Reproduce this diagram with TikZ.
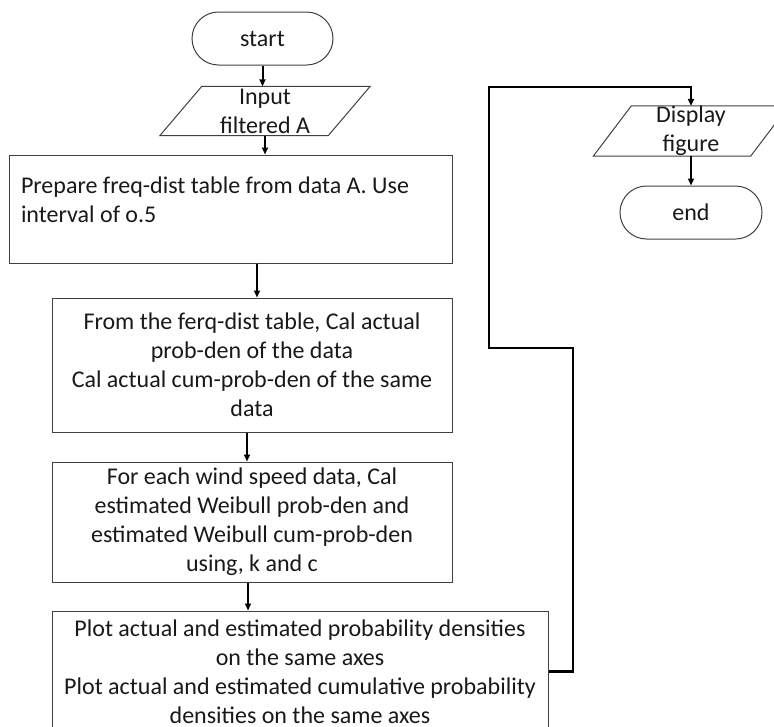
\documentclass[tikz,border=0pt]{standalone}
\usepackage{fontspec}
\setmainfont{Carlito}
\usetikzlibrary{arrows.meta}

\tikzset{
  base/.style={font=\fontsize{24}{29}\selectfont, text=black!90, inner sep=0pt},
  procbox/.style={base, draw=black!75, line width=1pt, align=center},
  term/.style={base, draw=black!75, line width=1pt, rounded corners=26.5pt,
    minimum width=141pt, minimum height=53pt},
  iotext/.style={base, align=center},
  iobox/.style={draw=black!75, line width=1pt},
  flow/.style={line width=2pt, -{Triangle[length=7pt,width=6pt]}},
  loopline/.style={line width=2.6pt, -{Triangle[length=7pt,width=6pt]}}
}

\begin{document}
\begin{tikzpicture}[x=1pt, y=-1pt]
  \useasboundingbox (0,0) rectangle (774,726);
  \clip (0,0) rectangle (774,726);

  % terminals
  \node[term] (start) at (262.5,38.5) {start};
  \node[term, minimum width=142pt] (end) at (691,212.5) {end};

  % input / output parallelograms (text node plus slanted outline)
  \node[iotext, minimum width=168pt, minimum height=49pt] (input) at (265,111) {Input\\filtered A};
  \draw[iobox] ([xshift=-21pt]input.south west) -- ([xshift=-21pt]input.south east)
    -- ([xshift=21pt]input.north east) -- ([xshift=21pt]input.north west) -- cycle;

  \node[iotext, minimum width=157pt, minimum height=47pt] (disp) at (691,131) {Display\\figure};
  \draw[iobox] ([xshift=-19pt]disp.south west) -- ([xshift=-19pt]disp.south east)
    -- ([xshift=19pt]disp.north east) -- ([xshift=19pt]disp.north west) -- cycle;

  % process boxes
  \node[procbox, align=flush left, minimum width=443pt, minimum height=108pt,
        text width=419pt] (prep) at (230.5,209)
    {Prepare freq-dist table from data A. Use\\interval of o.5\\[-10pt]\mbox{}};
  \node[procbox, minimum width=400pt, minimum height=134pt] (actual) at (252,365)
    {From the ferq-dist table, Cal actual\\prob-den of the data\\Cal actual cum-prob-den of the same\\data};
  \node[procbox, minimum width=400pt, minimum height=120pt] (weib) at (252,522)
    {For each wind speed data, Cal\\estimated Weibull prob-den and\\estimated Weibull cum-prob-den\\using, k and c};
  \node[procbox, minimum width=496pt, minimum height=121pt] (plot) at (300,671.5)
    {Plot actual and estimated probability densities\\on the same axes\\Plot actual and estimated cumulative probability\\densities on the same axes};

  % main flow
  \draw[flow] (start.south) -- (start.south |- input.north);
  \draw[flow] (input.south) -- (input.south |- prep.north);
  \draw[flow] ([xshift=5pt]actual.north |- prep.south) -- ([xshift=5pt]actual.north);
  \draw[flow] ([xshift=-5pt]actual.south) -- ([xshift=-5pt]actual.south |- weib.north);
  \draw[flow] ([xshift=-4pt]weib.south) -- ([xshift=-4pt]weib.south |- plot.north);
  \draw[flow] (disp.south) -- (end.north);

  % return path to the display step
  \coordinate (j1) at (573,348);
  \coordinate (j2) at (489,87);
  \draw[loopline] (plot.east) -| (j1) -- (j2 |- j1) -- (j2) -| (disp.north);
\end{tikzpicture}
\end{document}
